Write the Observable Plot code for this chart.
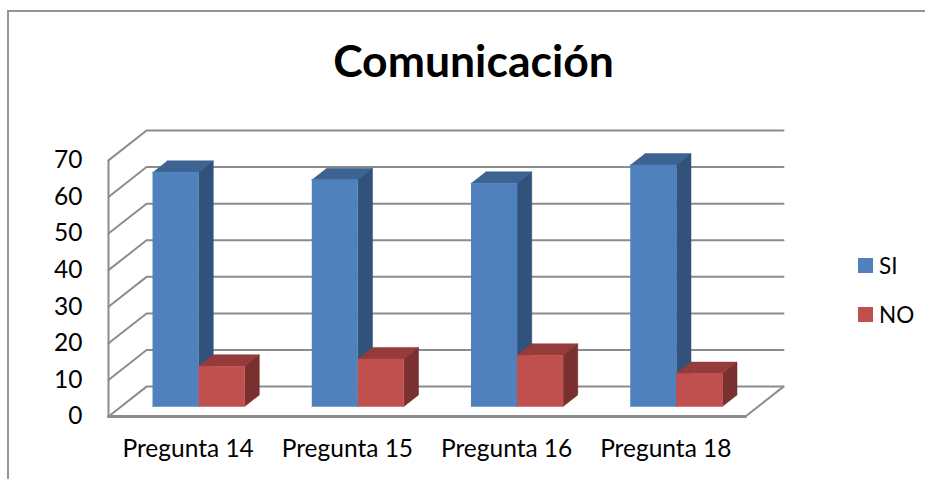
<!DOCTYPE html>
<html>
<head>
<meta charset="utf-8">
<script src="https://cdn.jsdelivr.net/npm/d3@7"></script>
<script src="https://cdn.jsdelivr.net/npm/@observablehq/plot@0.6"></script>
<style>
  html, body { margin: 0; padding: 0; background: #fff; }
  #chart { position: relative; width: 925px; height: 479px; overflow: hidden; font-family: Lato, "Open Sans", sans-serif; color: #000; }
  #frame { position: absolute; left: 7px; top: 10px; width: 930px; height: 480px; border: 2px solid #949494; box-sizing: border-box; }
  #title { position: relative; height: 110px; box-sizing: border-box; padding-top: 34px; margin: 0; text-align: center; font-size: 44.5px; line-height: 52px; font-weight: 700; }
  #title span { position: relative; left: 11px; }
  #legend div { position: absolute; left: 858px; font-size: 22.5px; line-height: 22px; white-space: nowrap; }
  #legend i { position: absolute; left: 0; top: 3px; width: 15px; height: 15px; }
  #legend b { position: absolute; left: 21px; top: 0; font-weight: 400; }
  svg { display: block; position: relative; }
</style>
</head>
<body>
<div id="chart">
  <div id="frame"></div>
  <h1 id="title"><span>Comunicación</span></h1>
  <div id="legend"></div>
</div>
<script>
const categories = ["Pregunta 14", "Pregunta 15", "Pregunta 16", "Pregunta 18"];
const si = [64, 62, 61, 66];
const no = [11, 13, 14, 9];
const valueTicks = [0, 10, 20, 30, 40, 50, 60, 70];
const seriesNames = ["SI", "NO"];
const seriesFront = ["#4f81bd", "#c0504d"];
const seriesTop = ["#3c6392", "#953b39"];
const seriesSide = ["#31527b", "#7a302e"];

// Oblique projection of the 3D chart: depth runs from 0 (front) to 1 (back wall)
const depthX = 0.239;   // in category units
const depthY = 8.17;    // in value units
const barWidth = 0.289;
const barInset = 0.014;
const barFrontDepth = 0.333;
const barBackDepth = 0.72;
const maxValue = 70;

const P = (cat, value, depth) => ({x: cat + depthX * depth, y: value + depthY * depth});
const n = categories.length;

// Walls and floor
const wallLines = [];
valueTicks.forEach(v => {
  wallLines.push({id: "l" + v, ...P(0, v, 0)}, {id: "l" + v, ...P(0, v, 1)}, {id: "l" + v, ...P(n, v, 1)});
});
wallLines.push({id: "r", ...P(n, 0, 0)}, {id: "r", ...P(n, 0, 1)});
const axisLeft = [P(0, 0, 0), P(0, maxValue, 0)];
const axisFloor = [P(0, 0, 0), P(n, 0, 0)];

// Bars as three faces each
function faces(values, seriesIndex) {
  const front = [], top = [], side = [];
  values.forEach((v, i) => {
    const x0 = i + 0.5 - barInset - barWidth + seriesIndex * barWidth;
    const x1 = x0 + barWidth;
    const a = barFrontDepth, b = barBackDepth;
    front.push(...[P(x0,0,a), P(x1,0,a), P(x1,v,a), P(x0,v,a)].map(p => ({id: i, ...p})));
    top.push(...[P(x0,v,a), P(x1,v,a), P(x1,v,b), P(x0,v,b)].map(p => ({id: i, ...p})));
    side.push(...[P(x1,0,a), P(x1,0,b), P(x1,v,b), P(x1,v,a)].map(p => ({id: i, ...p})));
  });
  return {front, top, side};
}
const face = (pts, color) => Plot.line(pts, {x: "x", y: "y", z: "id", fill: color, stroke: color, strokeWidth: 0.5, curve: "linear"});
const barMarks = [si, no].flatMap((vals, s) => {
  const f = faces(vals, s);
  return [face(f.top, seriesTop[s]), face(f.side, seriesSide[s]), face(f.front, seriesFront[s])];
});

const plot = Plot.plot({
  width: 925,
  height: 369,
  marginTop: 20,
  marginBottom: 63,
  marginLeft: 108,
  marginRight: 142,
  x: {type: "linear", domain: [0, n + depthX]},
  y: {type: "linear", domain: [0, maxValue + depthY]},
  style: {fontFamily: "Lato, 'Open Sans', sans-serif", fontSize: "24.5px", color: "#000", background: "transparent", overflow: "visible"},
  marks: [
    Plot.line(wallLines, {x: "x", y: "y", z: "id", stroke: "#8c8c8c", strokeWidth: 2, curve: "linear"}),
    Plot.line(axisLeft, {x: "x", y: "y", stroke: "#8c8c8c", strokeWidth: 2, curve: "linear"}),
    Plot.line(axisFloor, {x: "x", y: "y", stroke: "#8c8c8c", strokeWidth: 3, curve: "linear"}),
    ...barMarks,
    Plot.axisY(valueTicks, {anchor: "left", tickSize: 0, tickPadding: 26, label: null, fontSize: 24.5, textAnchor: "end"}),
    Plot.axisX(categories.map((c, i) => i + 0.5), {anchor: "bottom", tickSize: 0, tickPadding: 23, label: null, fontSize: 24.5, tickFormat: d => categories[Math.floor(d)]})
  ]
});
const chart = document.getElementById("chart");
chart.appendChild(plot);

const legendTops = [255, 304];
const legend = document.getElementById("legend");
seriesNames.forEach((name, i) => {
  const row = document.createElement("div");
  row.style.top = legendTops[i] + "px";
  const sw = document.createElement("i");
  sw.style.background = seriesFront[i];
  const tx = document.createElement("b");
  tx.textContent = name;
  row.append(sw, tx);
  legend.appendChild(row);
});
</script>
</body>
</html>
